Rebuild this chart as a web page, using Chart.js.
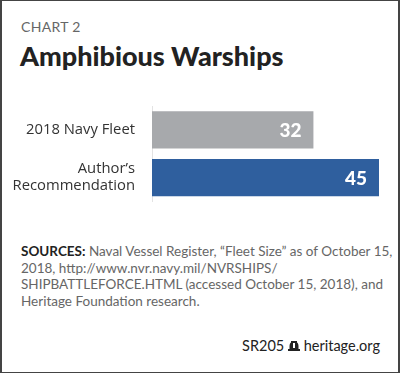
<!DOCTYPE html>
<html>
<head>
<meta charset="utf-8">
<script src="https://cdn.jsdelivr.net/npm/chart.js@4/dist/chart.umd.min.js"></script>
<style>
  html, body { margin: 0; padding: 0; background: #fff; }
  #frame {
    position: relative; width: 396px; height: 371px;
    border: 1px solid #444; border-left-width: 2px; border-right-width: 2px;
    font-family: Lato, "Open Sans", sans-serif; overflow: hidden;
  }
  #kicker { position: absolute; left: 19px; top: 17px; font-size: 14px; color: #666; letter-spacing: 0.3px; }
  #title { position: absolute; left: 18px; top: 38px; font-size: 27px; font-weight: 900; color: #222; }
  #wrap { position: absolute; left: -2px; top: 79px; width: 400px; height: 139px; }
  #sources { position: absolute; left: 19px; top: 242px; font-size: 13.5px; line-height: 16.5px; color: #666; }
  #sources b { color: #222; }
  #footer { position: absolute; right: 18px; top: 336px; font-size: 14.5px; color: #222; }
</style>
</head>
<body>
<div id="frame">
  <div id="kicker">CHART 2</div>
  <div id="title">Amphibious Warships</div>
  <div id="wrap"><canvas id="chart"></canvas></div>
  <div id="sources"><b>SOURCES:</b> Naval Vessel Register, “Fleet Size” as of October 15,<br>2018, http://www.nvr.navy.mil/NVRSHIPS/<br>SHIPBATTLEFORCE.HTML (accessed October 15, 2018), and<br>Heritage Foundation research.</div>
  <div id="footer">SR205 <svg width="12" height="12" viewBox="0 0 12 12" style="vertical-align:-1px"><path d="M3 1h6v1.5c1 .5 1.5 2 1.5 4v2.5H12V11H0V9h1.5V6.5c0-2 .5-3.5 1.5-4z" fill="#222"/><rect x="5" y="3" width="2" height="5" fill="#fff"/></svg> heritage.org</div>
</div>
<script>
// ข้อมูลของกราฟ
const categories = ['2018 Navy Fleet', ['Author’s', 'Recommendation']];
const ships = [32, 45];
const barColors = ['#a7a9ac', '#2f5f9e'];

// วาดตัวเลขสีขาวที่ปลายแท่ง
const valueLabels = {
    id: 'valueLabels',
    afterDatasetsDraw(chart) {
        const ctx = chart.ctx;
        const meta = chart.getDatasetMeta(0);
        ctx.save();
        ctx.fillStyle = '#fff';
        ctx.font = '900 19px Lato, "Open Sans", sans-serif';
        ctx.textAlign = 'right';
        ctx.textBaseline = 'middle';
        meta.data.forEach((bar, i) => {
            ctx.fillText(ships[i], bar.x - 12, bar.y + 1);
        });
        ctx.restore();
    }
};

new Chart(document.getElementById('chart'), {
    type: 'bar',
    data: {
        labels: categories,
        datasets: [{
            data: ships,
            backgroundColor: barColors,
            barPercentage: 0.78,
            categoryPercentage: 1
        }]
    },
    options: {
        indexAxis: 'y',
        responsive: true,
        maintainAspectRatio: false,
        animation: false,
        layout: { padding: { left: 0, right: 21, top: 0, bottom: 0 } },
        plugins: { legend: { display: false }, tooltip: { enabled: false } },
        scales: {
            x: { display: false, min: 0, max: 45 },
            y: {
                afterFit(scale) { scale.width = 152; },
                grid: { display: false },
                border: { display: true, color: '#e3e3e3', width: 1 },
                ticks: {
                    color: '#333',
                    padding: 9,
                    font: { family: '"Open Sans", sans-serif', size: 14.8, lineHeight: 1.15 }
                }
            }
        }
    },
    plugins: [valueLabels]
});
</script>
</body>
</html>
